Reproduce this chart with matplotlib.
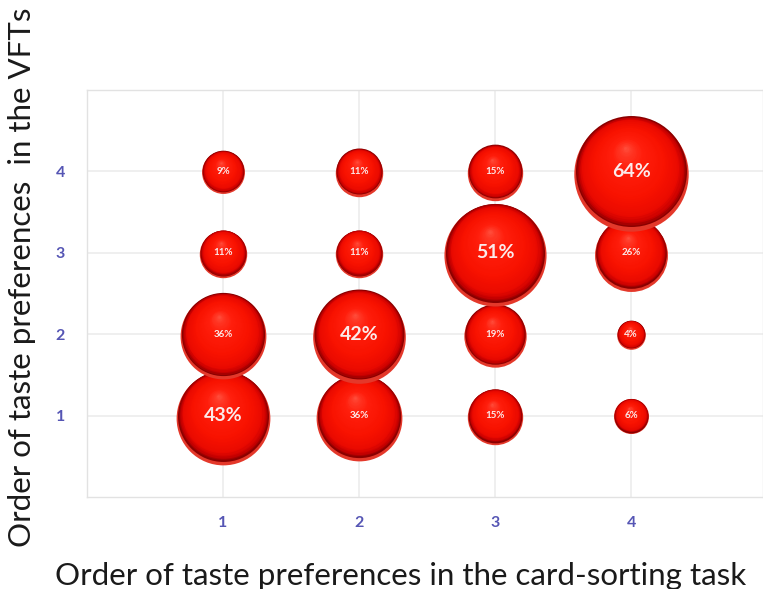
import numpy as np
import matplotlib
matplotlib.use("Agg")
import matplotlib.pyplot as plt
import matplotlib.transforms as mtransforms
from matplotlib.colors import LinearSegmentedColormap

# ====================================
# data
# ====================================

card_order = [1, 1, 1, 1, 2, 2, 2, 2, 3, 3, 3, 3, 4, 4, 4, 4]
vft_order = [1, 2, 3, 4, 1, 2, 3, 4, 1, 2, 3, 4, 1, 2, 3, 4]
percent = [43, 36, 11, 9, 36, 42, 11, 11, 15, 19, 51, 15, 6, 4, 26, 64]

tick_values = [1, 2, 3, 4]
tick_labels = ["1", "2", "3", "4"]

# ====================================
# figure
# ====================================

plt.rcParams["font.family"] = ["Lato", "DejaVu Sans"]

fig = plt.figure(figsize=(7.63, 5.89), dpi=100)
ax = fig.add_axes([87 / 763, 92 / 589, 676 / 763, 407 / 589])

ax.set_xlim(0, 4.97)
ax.set_ylim(0, 5)

ax.set_xticks(tick_values)
ax.set_xticklabels(tick_labels)
ax.set_yticks(tick_values)
ax.set_yticklabels(tick_labels)
ax.tick_params(length=0, labelsize=11.5, labelcolor="#5555b4")
ax.tick_params(axis="x", pad=14)
ax.tick_params(axis="y", pad=16)
for lab in ax.get_xticklabels() + ax.get_yticklabels():
    lab.set_fontweight("bold")

ax.grid(True, color="#ececec", linewidth=1.2)
ax.set_axisbelow(True)
for sp in ax.spines.values():
    sp.set_color("#e2e2e2")
    sp.set_linewidth(1.0)

# sphere shading
sphere_cmap = LinearSegmentedColormap.from_list(
    "sphere",
    [
        (0.0, "#8a0000"),
        (0.05, "#c80000"),
        (0.13, "#ea0a00"),
        (0.35, "#f81200"),
        (0.72, "#ff1e0c"),
        (0.9, "#ff3826"),
        (1.0, "#ff5240"),
    ],
)

n_layers = 40
hx, hy = -0.1, 0.42

order = np.argsort(vft_order, kind="stable")

for i in order:
    x = card_order[i]
    y = vft_order[i]
    p = percent[i]
    r = 7.15 * np.sqrt(p)  # pixels

    # bottom reflection
    tr = mtransforms.offset_copy(ax.transData, fig=fig, x=0, y=-0.05 * r, units="dots")
    ax.scatter([x], [y], s=(2 * r * 0.72) ** 2, color="#e4382a",
               linewidths=0, transform=tr, zorder=3)

    for k in range(n_layers):
        f = 1 - k / n_layers
        t = k / n_layers
        rr = 0.97 * r * f
        dx = (1 - f) * hx * r
        dy = (1 - f) * hy * r
        tr = mtransforms.offset_copy(ax.transData, fig=fig, x=dx, y=dy, units="dots")
        ax.scatter([x], [y], s=(2 * rr * 0.72) ** 2, color=sphere_cmap(t),
                   linewidths=0, transform=tr, zorder=3)

    if p >= 40:
        ax.text(x, y, f"{p}%", color="#fbeaea", fontsize=14, fontweight="bold",
                ha="center", va="center", zorder=5)
    else:
        ax.text(x, y, f"{p}%", color="#fbeaea", fontsize=7, fontweight="bold",
                ha="center", va="center", zorder=5)

# ====================================
# labels
# ====================================

fig.text(401 / 763, 1 - 576 / 589, "Order of taste preferences in the card-sorting task",
         ha="center", va="center", fontsize=22.5, color="#1a1a1a")
fig.text(22 / 763, 1 - 277 / 589, "Order of taste preferences  in the VFTs",
         ha="center", va="center", rotation=90, fontsize=22.5, color="#1a1a1a")

fig.savefig("out.png", dpi=100)
